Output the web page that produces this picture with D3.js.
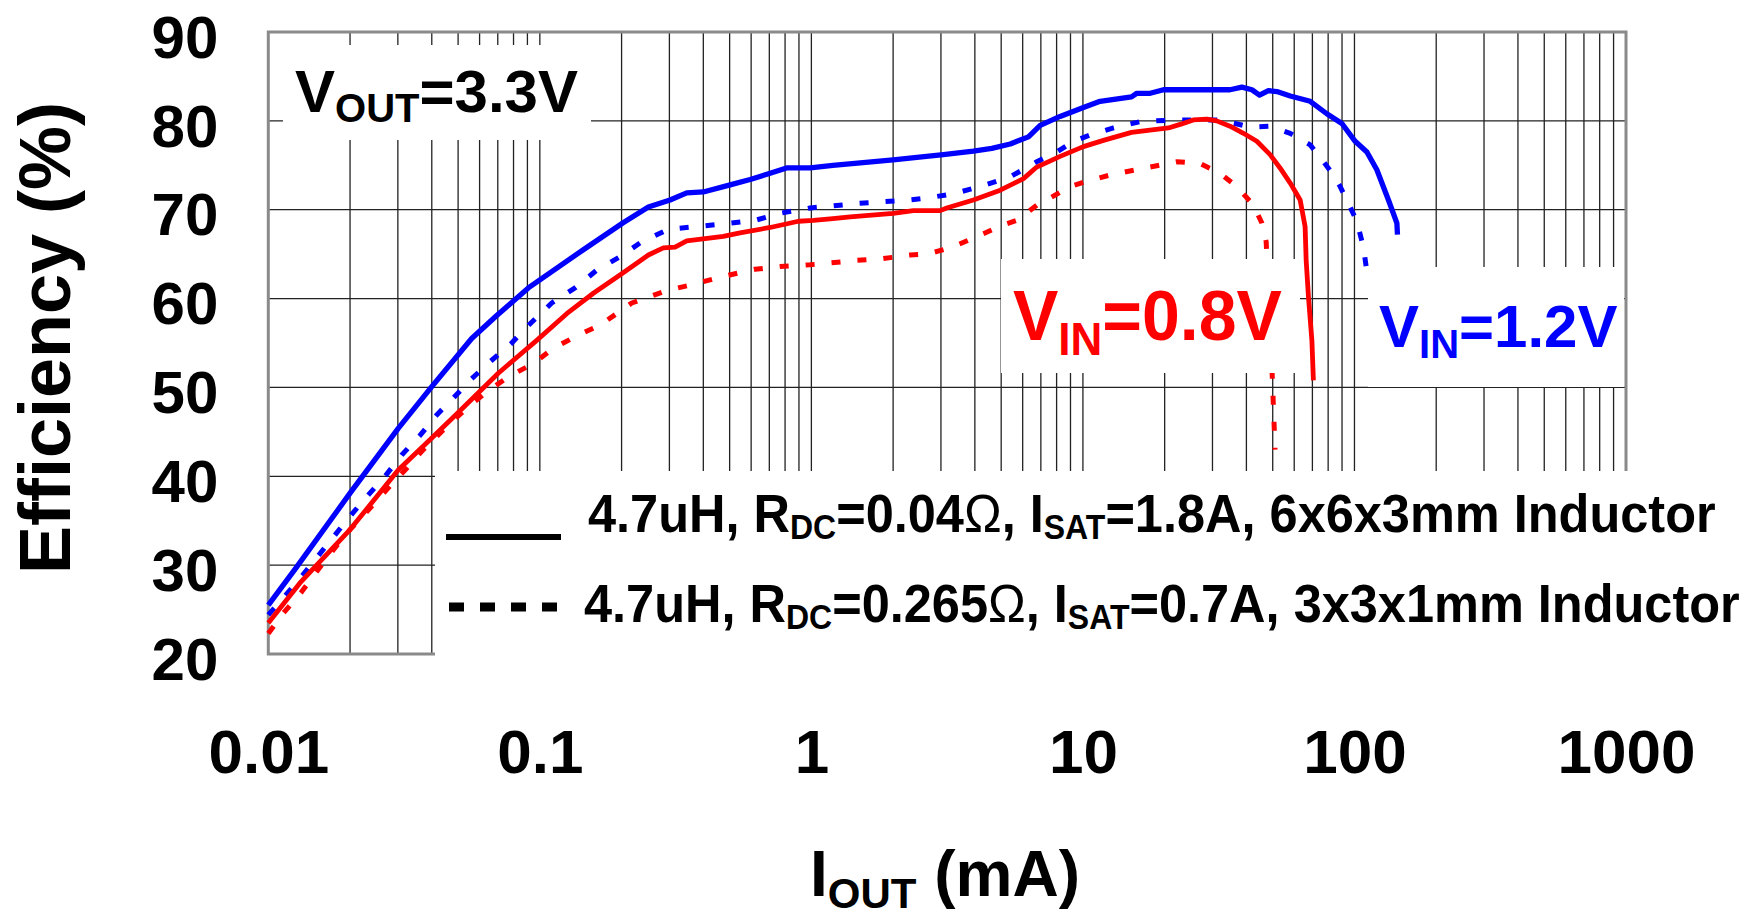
<!DOCTYPE html>
<html>
<head>
<meta charset="utf-8">
<script src="https://cdn.jsdelivr.net/npm/d3@7"></script>
<style>
  body { margin: 0; background: #fff; }
  svg { font-family: 'Liberation Sans', Arial, sans-serif; font-weight: bold; }
</style>
</head>
<body>
<div id="chart"></div>
<script>
// [I_OUT (mA), efficiency (%)]
const vin12Big = [
    [0.01, 25.5], [0.01273, 29.8], [0.02, 38.1], [0.0301, 45.4], [0.04, 50.1], [0.0561, 55.5],
    [0.0694, 58.1], [0.0907, 61.2], [0.1446, 65.5], [0.202, 68.5], [0.251, 70.3], [0.3017, 71.1],
    [0.3475, 71.9], [0.4, 72.0], [0.502, 72.8], [0.595, 73.4], [0.705, 74.1], [0.81, 74.7],
    [0.99, 74.7], [1.2, 75.0], [2.0, 75.6], [3.06, 76.2], [3.95, 76.6], [4.62, 76.9], [5.4, 77.4],
    [6.3, 78.2], [6.96, 79.5], [8.24, 80.5], [10.04, 81.5], [11.57, 82.2], [15.1, 82.7],
    [15.8, 83.1], [17.7, 83.1], [19.8, 83.5], [34.8, 83.5], [38.5, 83.8], [41.9, 83.5],
    [44.7, 82.9], [48.2, 83.4], [51.8, 83.3], [58.0, 82.8], [68.7, 82.2], [79.1, 80.8],
    [89.9, 79.7], [100.6, 77.7], [111.1, 76.5], [120.9, 74.5], [133.4, 71.1], [143.3, 68.5],
    [144.0, 67.2]
];
const vin12Small = [
    [0.01, 24.4], [0.0112, 26.1], [0.01308, 28.5], [0.02, 35.5], [0.02304, 37.7], [0.0269, 40.0],
    [0.031, 42.4], [0.0362, 44.6], [0.0417, 46.9], [0.048, 48.8], [0.0553, 50.8], [0.0656, 52.9],
    [0.0788, 55.0], [0.0895, 56.8], [0.1106, 59.5], [0.1348, 61.2], [0.162, 63.2], [0.1974, 64.7],
    [0.2373, 66.4], [0.2974, 67.8], [0.378, 68.1], [0.474, 68.4], [0.62, 68.8], [0.767, 69.6],
    [0.99, 70.2], [1.17, 70.4], [1.47, 70.7], [1.84, 70.9], [2.31, 71.1], [2.66, 71.3],
    [3.33, 71.8], [4.18, 72.6], [5.4, 73.7], [6.76, 75.4], [8.02, 76.5], [9.23, 77.7],
    [10.6, 78.4], [12.95, 79.2], [16.2, 79.9], [21.5, 80.1], [32.0, 80.1], [41.3, 79.3],
    [48.9, 79.4], [58.0, 78.6], [68.7, 77.3], [76.9, 75.4], [83.7, 73.9], [88.6, 72.6],
    [96.4, 70.3], [102.0, 68.7], [107.9, 65.8], [111.7, 62.5]
];
const vin08Big = [
    [0.01, 23.5], [0.01308, 28.0], [0.02, 34.0], [0.0301, 40.7], [0.04, 44.3], [0.0494, 47.0],
    [0.0703, 51.6], [0.0974, 55.3], [0.1256, 58.3], [0.1574, 60.6], [0.2003, 62.8], [0.251, 64.9],
    [0.285, 65.7], [0.3148, 65.8], [0.3475, 66.5], [0.474, 67.0], [0.546, 67.4], [0.705, 68.0],
    [0.896, 68.7], [1.017, 68.8], [1.2, 69.0], [1.39, 69.2], [2.0, 69.6], [2.375, 69.9],
    [2.98, 69.9], [3.15, 70.2], [3.95, 71.1], [4.96, 72.2], [6.04, 73.5], [6.76, 74.8],
    [8.24, 76.0], [10.04, 77.1], [11.9, 77.8], [15.1, 78.7], [20.65, 79.2], [22.8, 79.6],
    [25.5, 80.1], [28.6, 80.2], [31.1, 80.0], [34.8, 79.4], [39.0, 78.6], [43.7, 77.7],
    [48.9, 76.2], [53.2, 74.7], [58.0, 73.0], [63.1, 71.1], [65.8, 68.1], [66.4, 64.3],
    [67.7, 60.2], [69.7, 55.3], [70.6, 50.8]
];
const vin08Small = [
    [0.01, 22.3], [0.01136, 24.6], [0.01327, 27.0], [0.01508, 29.3], [0.01735, 31.7], [0.02, 34.0],
    [0.02335, 36.2], [0.0273, 38.5], [0.03234, 40.9], [0.03723, 43.0], [0.0441, 45.2], [0.053, 47.5],
    [0.0637, 49.5], [0.0766, 51.2], [0.0947, 52.7], [0.1121, 54.4], [0.1387, 55.9], [0.1666, 57.0],
    [0.218, 59.5], [0.2934, 60.9], [0.3676, 61.6], [0.474, 62.5], [0.62, 63.3], [0.767, 63.6],
    [0.99, 63.8], [1.47, 64.3], [1.84, 64.5], [2.31, 64.9], [2.66, 65.0], [3.24, 65.7],
    [3.95, 66.8], [5.1, 68.3], [5.71, 68.8], [6.76, 70.5], [7.36, 71.1], [8.97, 72.6],
    [10.6, 73.3], [12.95, 74.0], [15.8, 74.5], [19.8, 75.1], [22.2, 75.4], [27.0, 75.2],
    [32.0, 74.1], [36.9, 72.6], [42.5, 70.5], [45.6, 68.5], [47.3, 66.4], [49.75, 51.6],
    [51.0, 43.0]
];

const xTicks = [0.01, 0.1, 1, 10, 100, 1000];
const xTickLabels = ['0.01', '0.1', '1', '10', '100', '1000'];
const yTicks = [20, 30, 40, 50, 60, 70, 80, 90];

const width = 1753;
const height = 912;
const plotLeft = 268.3, plotRight = 1626, plotTop = 32, plotBottom = 654;

const svg = d3.select('#chart').append('svg')
    .attr('width', width)
    .attr('height', height);

const x = d3.scaleLog().domain([0.01, 1000]).range([plotLeft, plotRight]);
const y = d3.scaleLinear().domain([20, 90]).range([plotBottom, plotTop]);

// grid
const grid = svg.append('g').attr('stroke', '#222').attr('stroke-width', 1.3);
grid.selectAll('line.v').data(x.ticks()).enter().append('line')
    .attr('class', 'v')
    .attr('x1', d => x(d)).attr('x2', d => x(d))
    .attr('y1', plotTop).attr('y2', plotBottom);
grid.selectAll('line.h').data(yTicks).enter().append('line')
    .attr('class', 'h')
    .attr('x1', plotLeft).attr('x2', plotRight)
    .attr('y1', d => y(d)).attr('y2', d => y(d));

svg.append('rect')
    .attr('x', plotLeft).attr('y', plotTop)
    .attr('width', plotRight - plotLeft).attr('height', plotBottom - plotTop)
    .attr('fill', 'none').attr('stroke', '#8a8a8a').attr('stroke-width', 3);

// curves
const series = [
    { data: vin08Small, color: '#ff0000', dash: '9,17', width: 5 },
    { data: vin12Small, color: '#0000ff', dash: '9,17', width: 5 },
    { data: vin08Big, color: '#ff0000', dash: null, width: 4.8 },
    { data: vin12Big, color: '#0000ff', dash: null, width: 5.3 }
];
const line = d3.line().x(d => x(d[0])).y(d => y(d[1]));
svg.selectAll('path.curve').data(series).enter().append('path')
    .attr('class', 'curve')
    .attr('d', d => line(d.data))
    .attr('fill', 'none')
    .attr('stroke', d => d.color)
    .attr('stroke-width', d => d.width)
    .attr('stroke-dasharray', d => d.dash)
    .attr('stroke-linejoin', 'round');

// white label boxes sitting over the grid
const boxes = [
    [283, 45, 591, 140],
    [1001, 259, 1300, 373],
    [1368, 267, 1624, 387],
    [435, 471, 1753, 662]
];
svg.selectAll('rect.box').data(boxes).enter().append('rect')
    .attr('class', 'box')
    .attr('x', d => d[0]).attr('y', d => d[1])
    .attr('width', d => d[2] - d[0]).attr('height', d => d[3] - d[1])
    .attr('fill', '#fff');

// axes (labels only)
const yAxis = svg.append('g')
    .attr('transform', `translate(${plotLeft},0)`)
    .call(d3.axisLeft(y).tickValues(yTicks).tickSize(0).tickPadding(50));
yAxis.select('.domain').remove();
yAxis.selectAll('text')
    .attr('dy', '0.42em')
    .attr('fill', '#000')
    .style('font-size', '60px')
    .style('font-family', "'Liberation Sans', Arial, sans-serif")
    .style('font-weight', 'bold');

const xAxis = svg.append('g')
    .attr('transform', `translate(0,${plotBottom})`)
    .call(d3.axisBottom(x).tickValues(xTicks).tickFormat((d, i) => xTickLabels[i]).tickSize(0));
xAxis.select('.domain').remove();
xAxis.selectAll('text')
    .attr('y', 119)
    .attr('dy', 0)
    .attr('fill', '#000')
    .style('font-size', '62px')
    .style('font-family', "'Liberation Sans', Arial, sans-serif")
    .style('font-weight', 'bold');

// text with subscripts: parts are [string, kind] where kind is 'sub', 'thin' or ''
function richText(px, py, parts, size, subSize, drop, color, stretch) {
    const t = svg.append('text')
        .attr('transform', `translate(${px},${py}) scale(1,${stretch || 1})`)
        .attr('fill', color)
        .style('font-size', size + 'px');
    let down = false;
    parts.forEach(([s, kind]) => {
        const ts = t.append('tspan').text(s);
        if (kind === 'sub') {
            ts.style('font-size', subSize + 'px');
            if (!down) { ts.attr('dy', drop); down = true; }
        } else {
            if (down) { ts.attr('dy', -drop); down = false; }
            if (kind === 'thin') ts.style('font-weight', 'normal');
        }
    });
    return t;
}

richText(295, 112, [['V', ''], ['OUT', 'sub'], ['=3.3V', '']], 60, 40, 10, '#000');
richText(1013, 340, [['V', ''], ['IN', 'sub'], ['=0.8V', '']], 68, 44, 15, '#ff0000', 1.03);
richText(1379, 347, [['V', ''], ['IN', 'sub'], ['=1.2V', '']], 60, 40, 11, '#0000ff');

// legend
svg.append('line')
    .attr('x1', 446).attr('x2', 561).attr('y1', 537).attr('y2', 537)
    .attr('stroke', '#000').attr('stroke-width', 6);
svg.append('line')
    .attr('x1', 449).attr('x2', 557).attr('y1', 607).attr('y2', 607)
    .attr('stroke', '#000').attr('stroke-width', 9).attr('stroke-dasharray', '15,16');

richText(588, 532, [['4.7uH, R', ''], ['DC', 'sub'], ['=0.04', ''], ['\u03A9', 'thin'], [', I', ''], ['SAT', 'sub'],
    ['=1.8A, 6x6x3mm Inductor', '']], 50.5, 32, 7, '#000', 1.07);
richText(584, 622, [['4.7uH, R', ''], ['DC', 'sub'], ['=0.265', ''], ['\u03A9', 'thin'], [', I', ''], ['SAT', 'sub'],
    ['=0.7A, 3x3x1mm Inductor', '']], 50.5, 32, 7, '#000', 1.07);

// axis titles
richText(810, 896, [['I', ''], ['OUT', 'sub'], [' (mA)', '']], 64, 42, 12, '#000');
svg.append('text')
    .attr('transform', 'translate(70,338) rotate(-90)')
    .attr('text-anchor', 'middle')
    .style('font-size', '72px')
    .text('Efficiency (%)');
</script>
</body>
</html>
